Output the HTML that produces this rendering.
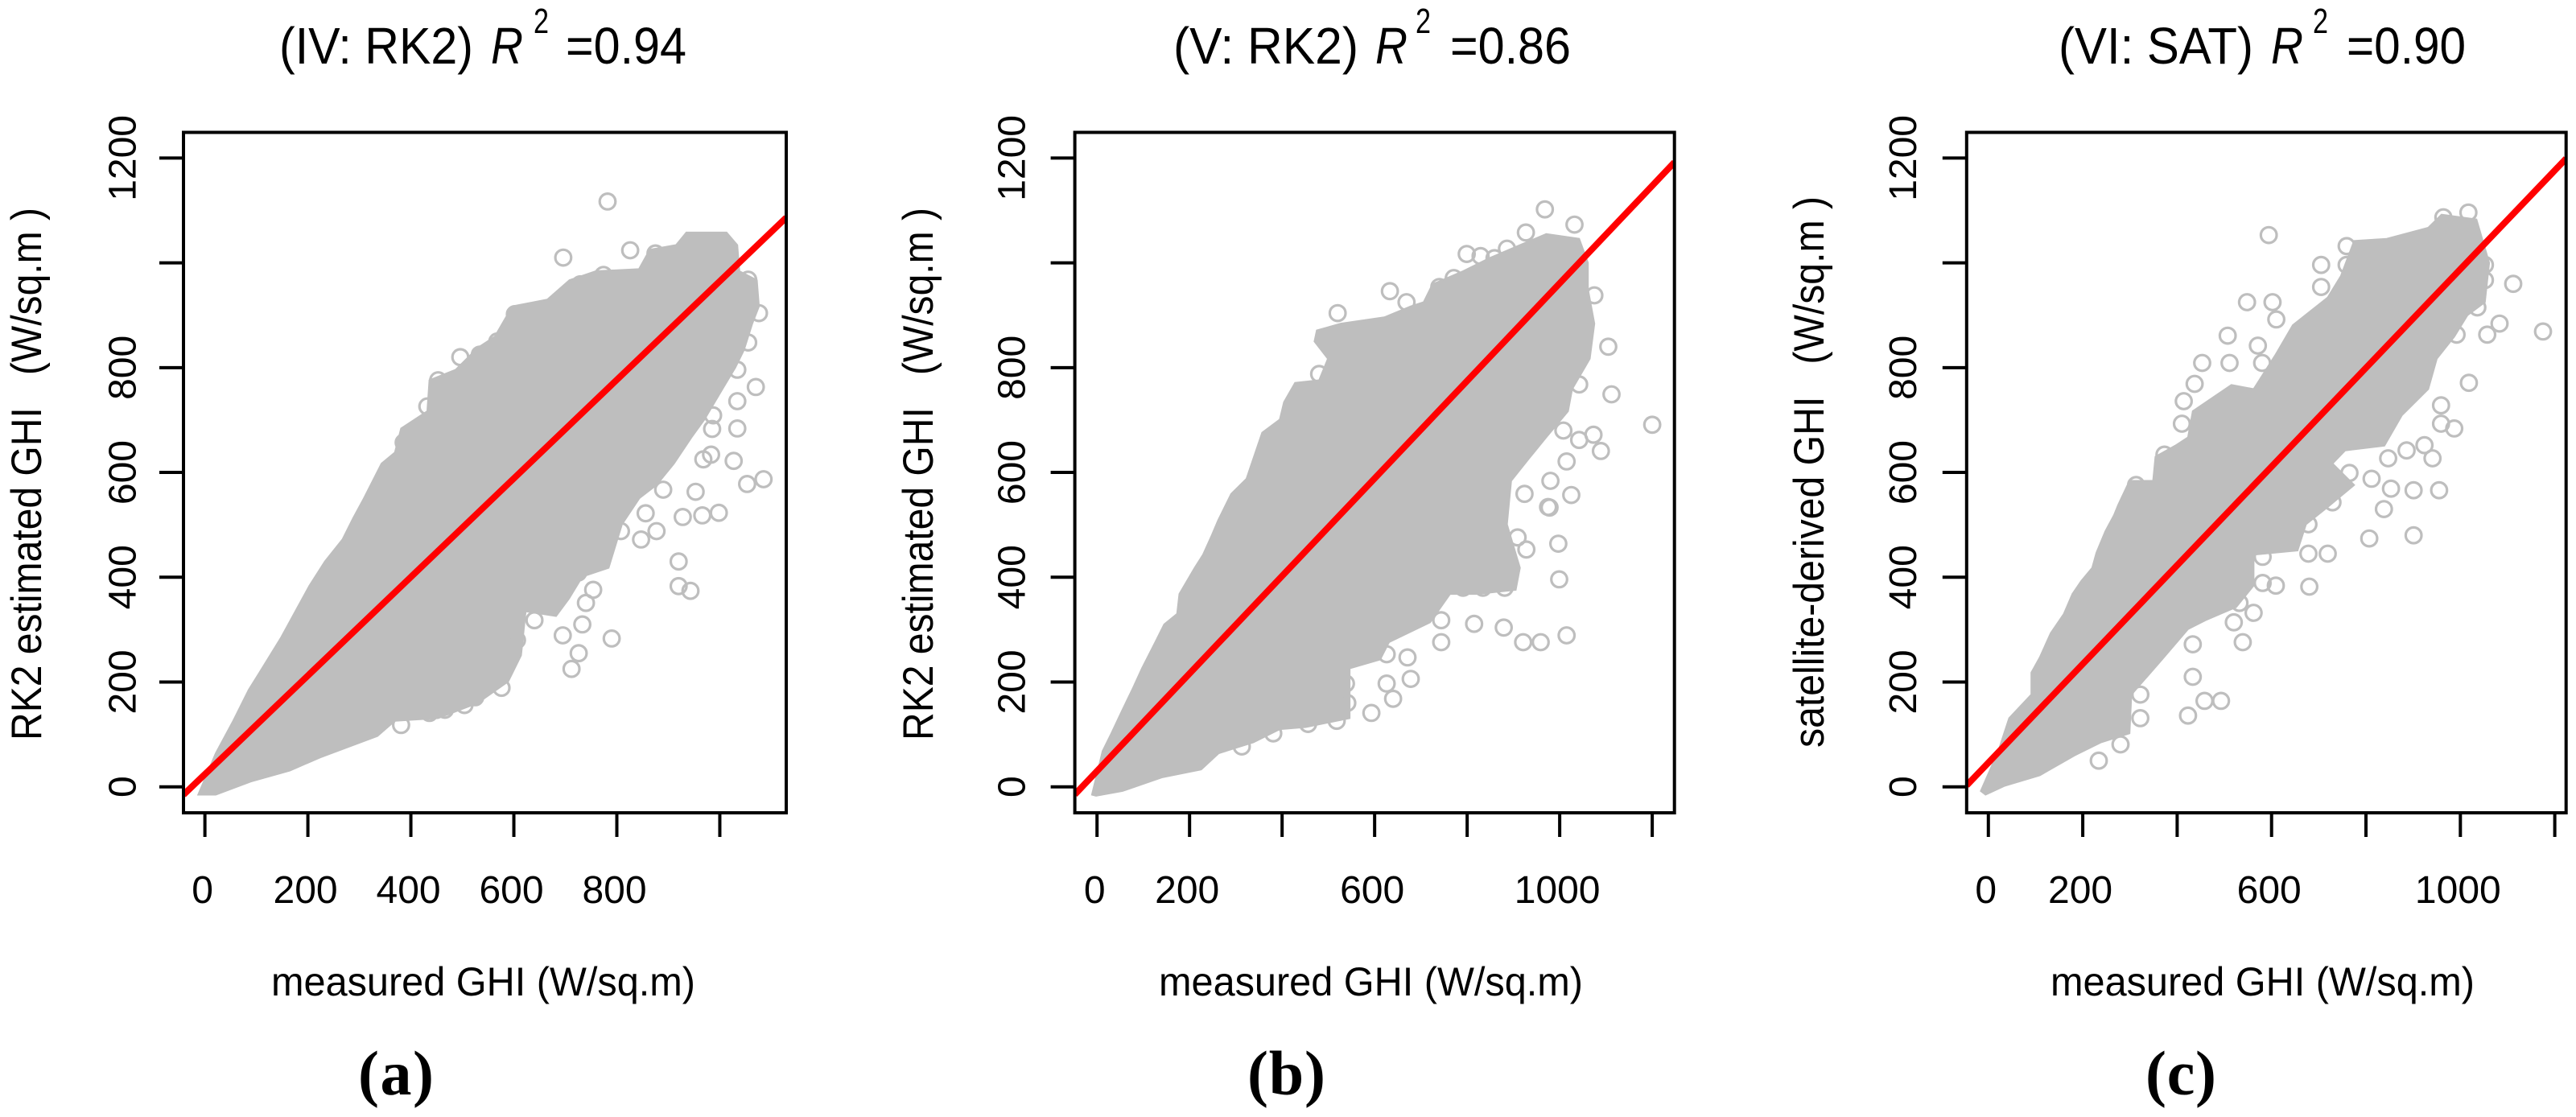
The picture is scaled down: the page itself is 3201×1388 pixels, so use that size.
<!DOCTYPE html>
<html lang="en">
<head>
<meta charset="utf-8">
<title>Measured vs estimated GHI scatter plots</title>
<style>
html,body{margin:0;padding:0;background:#fff;width:3201px;height:1388px;overflow:hidden}
svg{display:block}
text{font-family:"Liberation Sans",sans-serif;fill:#000}
.title{font-size:64px}
.sup{font-size:44px}
.tick{font-size:48px}
.axt{font-size:50px}
.axy{font-size:53px}
.cap{font-family:"Liberation Serif",serif;font-weight:bold;font-size:78px}
</style>
</head>
<body>
<svg id="figure" xmlns="http://www.w3.org/2000/svg" width="3201" height="1388" viewBox="0 0 3201 1388">
  <rect width="3201" height="1388" fill="#fff"/>
  <g id="panels"></g>

  <g>
    <text class="title" x="347" y="79" textLength="241" lengthAdjust="spacingAndGlyphs">(IV: RK2)</text>
    <text class="title" x="610" y="79" font-style="italic" textLength="40" lengthAdjust="spacingAndGlyphs">R</text>
    <text class="sup" x="663" y="41" textLength="19" lengthAdjust="spacingAndGlyphs">2</text>
    <text class="title" x="703" y="79" textLength="150" lengthAdjust="spacingAndGlyphs">=0.94</text>
  </g>
  <g>
    <text class="title" x="1458" y="79" textLength="230" lengthAdjust="spacingAndGlyphs">(V: RK2)</text>
    <text class="title" x="1709" y="79" font-style="italic" textLength="40" lengthAdjust="spacingAndGlyphs">R</text>
    <text class="sup" x="1759" y="41" textLength="19" lengthAdjust="spacingAndGlyphs">2</text>
    <text class="title" x="1802" y="79" textLength="150" lengthAdjust="spacingAndGlyphs">=0.86</text>
  </g>
  <g>
    <text class="title" x="2558" y="79" textLength="242" lengthAdjust="spacingAndGlyphs">(VI: SAT)</text>
    <text class="title" x="2822" y="79" font-style="italic" textLength="40" lengthAdjust="spacingAndGlyphs">R</text>
    <text class="sup" x="2874" y="41" textLength="19" lengthAdjust="spacingAndGlyphs">2</text>
    <text class="title" x="2916" y="79" textLength="148" lengthAdjust="spacingAndGlyphs">=0.90</text>
  </g>

  <text class="axy" transform="translate(51,920) rotate(-90)" textLength="662" lengthAdjust="spacingAndGlyphs" xml:space="preserve">RK2 estimated GHI   (W/sq.m )</text>
  <text class="axy" transform="translate(1159,920) rotate(-90)" textLength="662" lengthAdjust="spacingAndGlyphs" xml:space="preserve">RK2 estimated GHI   (W/sq.m )</text>
  <text class="axy" transform="translate(2266,929) rotate(-90)" textLength="685" lengthAdjust="spacingAndGlyphs" xml:space="preserve">satellite-derived GHI   (W/sq.m )</text>

  <text class="axt" x="337" y="1237" textLength="527" lengthAdjust="spacingAndGlyphs">measured GHI (W/sq.m)</text>
  <text class="axt" x="1440" y="1237" textLength="527" lengthAdjust="spacingAndGlyphs">measured GHI (W/sq.m)</text>
  <text class="axt" x="2548" y="1237" textLength="527" lengthAdjust="spacingAndGlyphs">measured GHI (W/sq.m)</text>

  <text class="cap" x="445" y="1360" textLength="94">(a)</text>
  <text class="cap" x="1550" y="1360" textLength="97">(b)</text>
  <text class="cap" x="2666" y="1360" textLength="88">(c)</text>
</svg>

<script>
// Axis ticks and labels
const yTickValues = [0, 200, 400, 600, 800, 1000, 1200];
const yTickLabels = ['0', '200', '400', '600', '800', '', '1200'];
const panelAXTickValues = [0, 200, 400, 600, 800, 1000];
const panelAXTickLabels = ['0', '200', '400', '600', '800', ''];
const panelBXTickValues = [0, 200, 400, 600, 800, 1000, 1200];
const panelBXTickLabels = ['0', '200', '', '600', '', '1000', ''];
const panelCXTickValues = [0, 200, 400, 600, 800, 1000, 1200];
const panelCXTickLabels = ['0', '200', '', '600', '', '1000', ''];

// Panel a: outline of the dense point cloud
const panelACloudMeasured = [-13,21,55,85,106,148,178,203,233,267,288,309,326,343,369,381,432,436,487,530,563,597,665,708,759,843,864,915,935,1013,1034,1038,1072,1076,1063,1047,1030,1005,970,945,911,877,844,810,784,733,707,682,623,614,589,530,453,369,335,224,165,89,21];
const panelACloudEstimated = [-15,64,126,185,218,285,339,384,430,472,513,551,584,617,638,684,717,776,796,838,859,917,930,967,984,988,1025,1034,1058,1058,1034,984,967,917,884,834,800,759,701,667,617,576,551,501,418,401,359,326,335,251,201,160,131,126,97,56,31,10,-15];
// Panel a: individually visible points
const panelAPointMeasured = [782,696,826,875,774,729,675,602,602,568,496,534,453,432,386,1076,1055,1055,1034,1070,1034,1034,987,985,983,968,1027,1085,1053,998,966,928,953,890,877,847,920,920,943,808,780,856,767,754,740,790,733,695,726,712,640,606,576,525,504,466,436,381,725];
const panelAPointEstimated = [1117,1010,1024,1018,977,959,917,902,884,850,820,825,776,726,657,904,968,848,796,763,736,684,709,683,634,625,622,587,578,523,518,515,563,567,488,472,430,383,374,488,493,522,447,376,351,283,310,289,255,225,318,280,189,171,156,147,141,118,409];
// Panel a: fitted line
const panelAFitIntercept = [24];
const panelAFitSlope = [0.941];

// Panel b: outline of the dense point cloud
const panelBCloudMeasured = [-11,12,31,55,78,97,126,145,173,178,211,229,248,262,290,323,357,395,404,428,480,499,470,475,527,621,678,706,725,791,848,914,971,1042,1061,1061,1075,1065,1027,1018,971,933,895,886,914,905,820,763,720,631,612,546,546,451,395,338,263,225,140,55,-2];
const panelBCloudEstimated = [-15,68,102,147,189,226,276,310,330,368,418,443,480,509,559,588,676,701,734,771,776,817,850,871,884,896,917,925,959,984,1009,1034,1055,1046,1000,950,884,817,759,717,667,626,584,501,418,376,368,368,314,276,243,226,131,114,110,85,64,33,18,-8,-17];
// Panel b: individually visible points
const panelBPointMeasured = [968,1032,927,799,829,859,886,633,520,669,740,771,1075,1105,1112,1200,1042,1073,1089,1042,1008,1015,1025,978,997,999,928,909,824,881,834,791,744,744,815,879,921,959,1015,671,626,678,626,640,593,538,541,456,518,381,313,480,924,975,980];
const panelBPointEstimated = [1102,1073,1058,1017,1013,1009,1027,946,904,925,954,971,938,840,749,691,768,672,641,662,680,621,557,533,464,396,453,476,422,380,380,380,318,276,311,304,276,276,289,247,253,206,197,168,141,197,160,120,126,102,77,788,559,534,584];
// Panel b: fitted line
const panelBFitIntercept = [30];
const panelBFitSlope = [0.931];

// Panel c: outline of the dense point cloud
const panelCCloudMeasured = [-16,21,44,91,91,109,132,160,178,197,220,229,248,266,275,299,349,354,396,423,433,515,562,608,645,719,747,775,844,932,960,1034,1061,1052,1015,987,950,932,876,839,756,729,775,719,673,655,562,562,525,460,423,368,303,299,239,183,109,35,-6];
const panelCCloudEstimated = [-8,68,131,176,218,247,293,330,368,393,418,447,488,518,538,584,584,630,651,667,717,767,759,824,881,934,975,1042,1046,1067,1092,1083,1000,925,900,859,817,759,709,651,642,617,576,534,501,451,443,384,343,318,301,243,176,102,85,60,22,2,-15];
// Panel c: individually visible points
const panelCPointMeasured = [594,759,705,759,705,548,602,610,507,571,453,511,580,437,414,410,373,313,1017,964,1052,1052,1112,1083,1057,1175,992,1036,1018,959,987,959,924,941,886,847,853,901,955,838,765,812,729,678,901,807,719,678,581,609,680,581,562,532,520,539,433,493,458,423,433,322,322,280,234];
const panelCPointEstimated = [1053,1032,996,996,954,925,925,892,861,842,809,809,809,769,736,693,634,576,1096,1087,996,967,960,884,863,869,863,915,771,728,684,693,652,627,642,627,569,566,566,530,599,588,543,501,480,474,445,445,439,384,382,389,332,351,314,276,272,164,164,136,210,176,131,81,50];
// Panel c: fitted line
const panelCFitIntercept = [46];
const panelCFitSlope = [0.942];

const SVG_NS = 'http://www.w3.org/2000/svg';
const panelsRoot = document.getElementById('panels');

function linearScale(domainStart, domainEnd, rangeStart, rangeEnd) {
  return function (v) {
    return rangeStart + (v - domainStart) / (domainEnd - domainStart) * (rangeEnd - rangeStart);
  };
}

function make(tag, parent) {
  const el = document.createElementNS(SVG_NS, tag);
  parent.appendChild(el);
  return el;
}

function drawPanel(p) {
  const x = linearScale(p.xDomain[0], p.xDomain[1], p.left, p.right);
  const y = linearScale(-49.6, 1249, 1010, 164.5);

  const group = make('g', panelsRoot);
  
  

  const defs = make('defs', group);
  const clip = make('clipPath', defs);
  clip.setAttribute('id', p.id + '-clip');
  const clipRect = make('rect', clip);
  clipRect.setAttribute('x', p.left);
  clipRect.setAttribute('y', 164.5);
  clipRect.setAttribute('width', p.right - p.left);
  clipRect.setAttribute('height', 845.5);

  const cloud = make('polygon', group);
  
  
  cloud.setAttribute('fill', '#bebebe');
  cloud.setAttribute('stroke', '#bebebe');
  cloud.setAttribute('stroke-width', '2');
  cloud.setAttribute('points', p.cloudX.map(function (v, i) {
    return x(v).toFixed(1) + ',' + y(p.cloudY[i]).toFixed(1);
  }).join(' '));

  p.pointX.forEach(function (v, i) {
    const c = make('circle', group);
    
    
    c.setAttribute('cx', x(v).toFixed(1));
    c.setAttribute('cy', y(p.pointY[i]).toFixed(1));
    c.setAttribute('r', 9.8);
    c.setAttribute('fill', 'none');
    c.setAttribute('stroke', '#bebebe');
    c.setAttribute('stroke-width', '3.2');
  });

  const fit = make('line', group);
  
  
  fit.setAttribute('x1', x(p.xDomain[0]));
  fit.setAttribute('y1', y(p.intercept[0] + p.slope[0] * p.xDomain[0]));
  fit.setAttribute('x2', x(p.xDomain[1]));
  fit.setAttribute('y2', y(p.intercept[0] + p.slope[0] * p.xDomain[1]));
  fit.setAttribute('stroke', '#ff0000');
  fit.setAttribute('stroke-width', '8');
  fit.setAttribute('clip-path', 'url(#' + p.id + '-clip)');

  const box = make('rect', group);
  
  
  box.setAttribute('x', p.left);
  box.setAttribute('y', 164.5);
  box.setAttribute('width', p.right - p.left);
  box.setAttribute('height', 845.5);
  box.setAttribute('fill', 'none');
  box.setAttribute('stroke', '#000');
  box.setAttribute('stroke-width', '4');

  p.xTicks.forEach(function (v, i) {
    const t = make('line', group);
    
    
    t.setAttribute('x1', x(v));
    t.setAttribute('x2', x(v));
    t.setAttribute('y1', 1010);
    t.setAttribute('y2', 1040);
    t.setAttribute('stroke', '#000');
    t.setAttribute('stroke-width', '4');
    if (p.xLabels[i]) {
      const l = make('text', group);
      
      
      l.setAttribute('class', 'tick');
      l.setAttribute('x', x(v) - 3);
      l.setAttribute('y', 1122);
      l.setAttribute('text-anchor', 'middle');
      l.textContent = p.xLabels[i];
    }
  });

  yTickValues.forEach(function (v, i) {
    const t = make('line', group);
    
    
    t.setAttribute('x1', p.left);
    t.setAttribute('x2', p.left - 30);
    t.setAttribute('y1', y(v));
    t.setAttribute('y2', y(v));
    t.setAttribute('stroke', '#000');
    t.setAttribute('stroke-width', '4');
    if (yTickLabels[i]) {
      const l = make('text', group);
      
      
      l.setAttribute('class', 'tick');
      l.setAttribute('text-anchor', 'middle');
      l.setAttribute('transform', 'translate(' + p.yLabelX + ',' + y(v) + ') rotate(-90)');
      l.textContent = yTickLabels[i];
    }
  });
}

drawPanel({
  id: 'panel-a', left: 228, right: 977, xDomain: [-41.6, 1129], yLabelX: 168.5,
  cloudX: panelACloudMeasured, cloudY: panelACloudEstimated,
  pointX: panelAPointMeasured, pointY: panelAPointEstimated,
  intercept: panelAFitIntercept, slope: panelAFitSlope,
  xTicks: panelAXTickValues, xLabels: panelAXTickLabels
});
drawPanel({
  id: 'panel-b', left: 1335.6, right: 2080.7, xDomain: [-48, 1248], yLabelX: 1273.5,
  cloudX: panelBCloudMeasured, cloudY: panelBCloudEstimated,
  pointX: panelBPointMeasured, pointY: panelBPointEstimated,
  intercept: panelBFitIntercept, slope: panelBFitSlope,
  xTicks: panelBXTickValues, xLabels: panelBXTickLabels
});
drawPanel({
  id: 'panel-c', left: 2443.8, right: 3188.7, xDomain: [-46, 1224], yLabelX: 2381,
  cloudX: panelCCloudMeasured, cloudY: panelCCloudEstimated,
  pointX: panelCPointMeasured, pointY: panelCPointEstimated,
  intercept: panelCFitIntercept, slope: panelCFitSlope,
  xTicks: panelCXTickValues, xLabels: panelCXTickLabels
});
</script>
</body>
</html>
